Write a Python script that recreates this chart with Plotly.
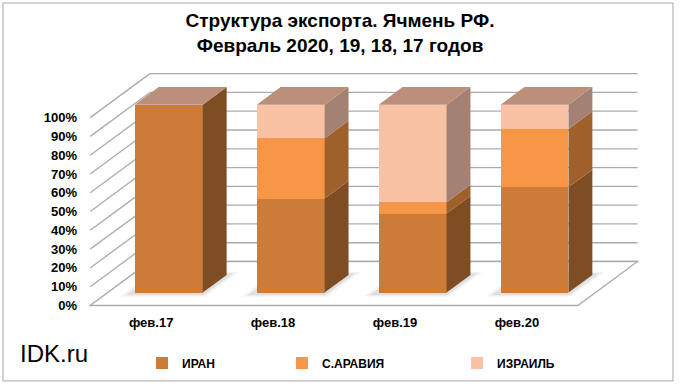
import plotly.graph_objects as go

# ---- data ----
categories = ["фев.17", "фев.18", "фев.19", "фев.20"]
series_names = ["ИРАН", "С.АРАВИЯ", "ИЗРАИЛЬ"]
iran = [100, 50, 42, 56]
saudi = [0, 32, 6, 31]
israel = [0, 18, 52, 13]
y_ticks = [0, 10, 20, 30, 40, 50, 60, 70, 80, 90, 100]

series_values = [iran, saudi, israel]
front_colors = ["#CC7C38", "#F79646", "#FAC2A5"]
side_colors = ["#7F4D23", "#A0602B", "#A38173"]
top_color = "#BC8F7B"
grid_color = "#ABABAB"

# ---- oblique 3D projection helpers ----
DX, DY = 0.49, 23.4      # screen shift per unit of depth (x units, y units)
D0, DEPTH = 0.295, 0.40  # bar front depth and bar depth
W = 0.557                # bar width
n = len(categories)
xs = list(range(n))
left, right = -0.5, n - 0.5


def P(x, v, d):
    return x + d * DX, v + d * DY


def path(points):
    return "M" + " L".join(f"{px:.4f},{py:.4f}" for px, py in points) + " Z"


shapes = []
# back wall and left wall gridlines
for v in y_ticks:
    x0, y0 = P(left, v, 1)
    x1, y1 = P(right, v, 1)
    shapes.append(dict(type="line", xref="x", yref="y", x0=x0, y0=y0, x1=x1, y1=y1,
                       line=dict(color=grid_color, width=1.3), layer="below"))
    a0, b0 = P(left, v, 0)
    shapes.append(dict(type="line", xref="x", yref="y", x0=a0, y0=b0, x1=x0, y1=y0,
                       line=dict(color=grid_color, width=1.3), layer="below"))
# floor
shapes.append(dict(type="path", xref="x", yref="y",
                   path=path([P(left, 0, 0), P(right, 0, 0), P(right, 0, 1), P(left, 0, 1)]),
                   fillcolor="white", line=dict(color=grid_color, width=1.3), layer="below"))
# soft shadows under bars
for c in xs:
    xl, xr = c - W / 2 - 0.045, c + W / 2 + 0.035
    d1, d2 = D0 - 0.06, D0 + DEPTH + 0.04
    for grow, alpha in [(0.03, 0.05), (0.0, 0.08)]:
        shapes.append(dict(type="path", xref="x", yref="y",
                           path=path([P(xl - grow, 0, d1 - grow), P(xr + grow, 0, d1 - grow),
                                      P(xr + grow, 0, d2 + grow), P(xl - grow, 0, d2 + grow)]),
                           fillcolor=f"rgba(0,0,0,{alpha})", line=dict(width=0), layer="below"))
# outer frame
shapes.append(dict(type="rect", xref="paper", yref="paper", x0=-0.1309, x1=1.0384,
                   y0=-0.274, y1=1.25, line=dict(color="#A6A6A6", width=1)))

fig = go.Figure()

legends = ["legend", "legend2", "legend3"]
cum = [0] * n
for i, (name, vals) in enumerate(zip(series_names, series_values)):
    fig.add_trace(go.Bar(
        name=name, x=[c + D0 * DX for c in xs], y=vals,
        base=[D0 * DY + b for b in cum], width=W,
        marker=dict(color=front_colors[i], line=dict(width=0)),
        legend=legends[i], hoverinfo="name+y"))
    # side faces
    sx, sy = [], []
    for c, v, b in zip(xs, vals, cum):
        if v <= 0:
            continue
        xr = c + W / 2
        pts = [P(xr, b, D0), P(xr, b + v, D0), P(xr, b + v, D0 + DEPTH), P(xr, b, D0 + DEPTH)]
        for px, py in pts + [pts[0]]:
            sx.append(px)
            sy.append(py)
        sx.append(None)
        sy.append(None)
    fig.add_trace(go.Scatter(x=sx, y=sy, mode="lines", fill="toself",
                             fillcolor=side_colors[i], line=dict(width=0, color=side_colors[i]),
                             hoverinfo="skip", showlegend=False))
    cum = [b + v for b, v in zip(cum, vals)]

# top faces
tx, ty = [], []
for c, t in zip(xs, cum):
    xl, xr = c - W / 2, c + W / 2
    pts = [P(xl, t, D0), P(xr, t, D0), P(xr, t, D0 + DEPTH), P(xl, t, D0 + DEPTH)]
    for px, py in pts + [pts[0]]:
        tx.append(px)
        ty.append(py)
    tx.append(None)
    ty.append(None)
fig.add_trace(go.Scatter(x=tx, y=ty, mode="lines", fill="toself", fillcolor=top_color,
                         line=dict(width=0, color=top_color), hoverinfo="skip", showlegend=False))

FONT = "Liberation Sans, Arial, sans-serif"
tick_font = dict(family=FONT, size=13, color="black", weight="bold")
legend_common = dict(orientation="h", yanchor="middle", y=-0.2016, xanchor="left",
                     font=dict(family=FONT, size=12, color="black", weight="bold"),
                     bgcolor="rgba(0,0,0,0)")

fig.update_layout(
    width=680, height=385,
    margin=dict(l=78, r=29, t=65, b=72, autoexpand=False),
    paper_bgcolor="white", plot_bgcolor="white",
    barmode="overlay", bargap=0,
    title=dict(text="Структура экспорта. Ячмень РФ.<br>Февраль 2020, 19, 18, 17 годов",
               x=0.5, xref="container", xanchor="center",
               y=1 - 27 / 385, yref="container", yanchor="top",
               font=dict(family=FONT, size=19, color="black", weight="bold")),
    xaxis=dict(range=[-0.6, 4.1], tickvals=xs, ticktext=categories,
               showgrid=False, zeroline=False, showline=False, ticks="", tickfont=tick_font,
               fixedrange=True, automargin=False),
    yaxis=dict(range=[-4, 128], tickvals=y_ticks, ticktext=[f"{v}%" for v in y_ticks],
               showgrid=False, zeroline=False, showline=False, ticks="", tickfont=tick_font,
               fixedrange=True, automargin=False),
    shapes=shapes,
    legend=dict(x=0.1117, **legend_common),
    legend2=dict(x=0.356, **legend_common),
    legend3=dict(x=0.6615, **legend_common),
    annotations=[dict(text="IDK.ru", xref="paper", yref="paper", x=-0.1047, y=-0.1653,
                      xanchor="left", yanchor="middle", showarrow=False,
                      font=dict(family=FONT, size=24, color="black"))],
)

fig.write_html("out.html", config={"displayModeBar": False},
               post_script="document.body.style.margin='0px';")
